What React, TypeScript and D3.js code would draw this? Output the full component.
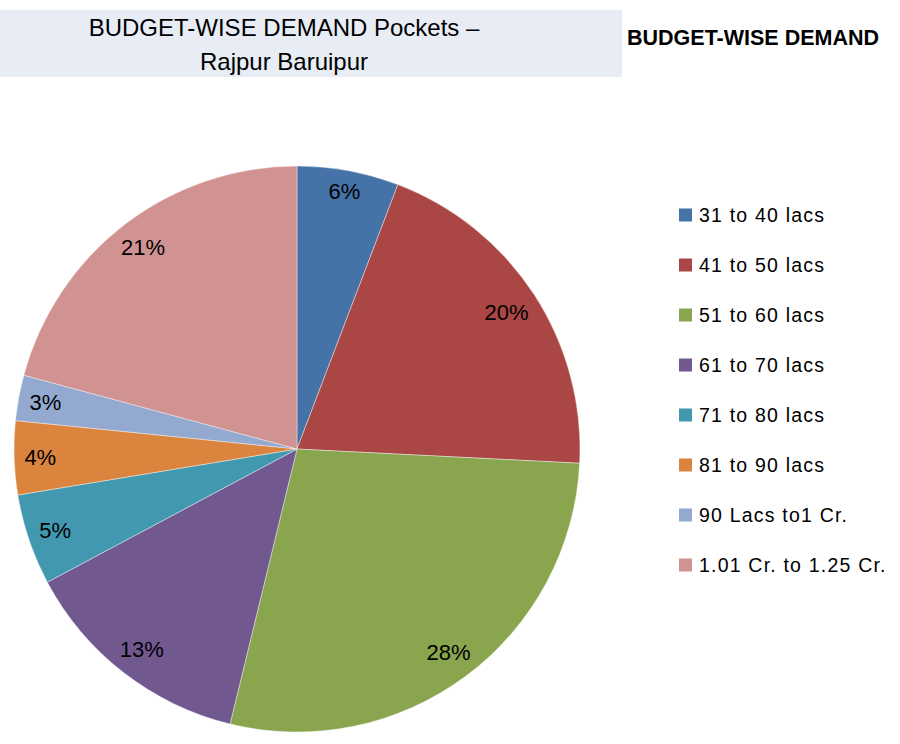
import React from "react";
import * as d3 from "d3";

const categories = [
  "31 to 40 lacs",
  "41 to 50 lacs",
  "51 to 60 lacs",
  "61 to 70 lacs",
  "71 to 80 lacs",
  "81 to 90 lacs",
  "90 Lacs to1 Cr.",
  "1.01 Cr. to 1.25 Cr.",
];
const shares = [5.8, 20.0, 28.0, 13.4, 5.2, 4.2, 2.6, 20.8];
const colors = ["#4572A7", "#AA4643", "#89A54E", "#71588F", "#4198AF", "#DB843D", "#93A9CF", "#D19392"];
const titleLines = ["BUDGET-WISE DEMAND Pockets –", "Rajpur Baruipur"];
const sideTitle = "BUDGET-WISE DEMAND";

const FONT = "'Liberation Sans', Arial, sans-serif";

export default function App() {
  const W = 900, H = 744;
  const cx = 297, cy = 449, R = 283;
  const total = d3.sum(shares);
  const pie = d3.pie<number>().sort(null).value((d) => d);
  const arcs = pie(shares);
  const arc = d3.arc<d3.PieArcDatum<number>>().innerRadius(0).outerRadius(R);
  const labelSize = 22;

  const labelPos = (a: d3.PieArcDatum<number>, text: string) => {
    const mid = (a.startAngle + a.endAngle) / 2;
    const s = Math.sin(mid), c = Math.cos(mid);
    const w = (text.length - 1) * 0.556 * labelSize + 0.889 * labelSize;
    const h = 16;
    const r = R - 10 - (h / 2) * Math.abs(c) - (w / 2) * Math.abs(s);
    return [r * s, -r * c];
  };

  return (
    <svg width={W} height={H} style={{ position: "absolute", left: 0, top: 0, background: "#fff" }}>
      <rect x={0} y={10} width={622} height={67} fill="#E8ECF4" />
      {titleLines.map((t, i) => (
        <text key={i} x={284} y={27 + i * 34} textAnchor="middle" dominantBaseline="central"
          fontFamily={FONT} fontSize={24} fill="#000">{t}</text>
      ))}
      <text x={627} y={38} dominantBaseline="central" fontFamily={FONT} fontSize={21.5}
        fontWeight="bold" fill="#000">{sideTitle}</text>
      <g transform={`translate(${cx},${cy})`}>
        {arcs.map((a, i) => (
          <path key={i} d={arc(a) || ""} fill={colors[i]} stroke="#ffffff" strokeOpacity={0.5} strokeWidth={0.8} />
        ))}
        {arcs.map((a, i) => {
          const txt = `${Math.round((a.data / total) * 100)}%`;
          const [x, y] = labelPos(a, txt);
          return (
            <text key={i} x={x} y={y} textAnchor="middle" dominantBaseline="central"
              fontFamily={FONT} fontSize={labelSize} fill="#000">{txt}</text>
          );
        })}
      </g>
      {categories.map((c, i) => (
        <g key={i} transform={`translate(679,${215 + i * 50})`}>
          <rect x={0} y={-6.5} width={13} height={13} fill={colors[i]} />
          <text x={20} y={0} dominantBaseline="central" fontFamily={FONT} fontSize={19.5}
            letterSpacing={1.2} fill="#000">{c}</text>
        </g>
      ))}
    </svg>
  );
}
